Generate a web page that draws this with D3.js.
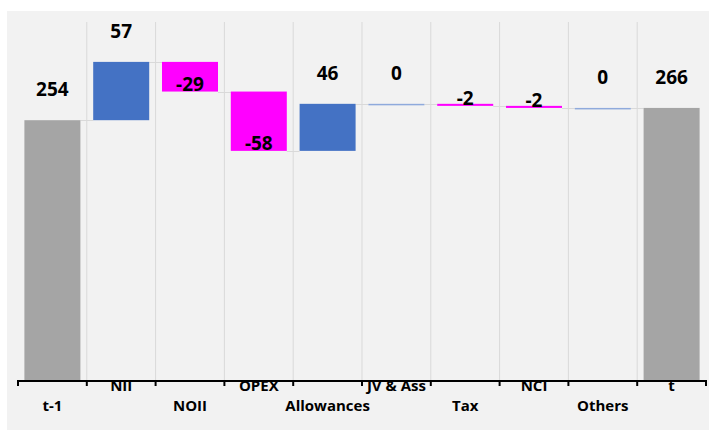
<!DOCTYPE html>
<html>
<head>
<meta charset="utf-8">
<script src="https://cdn.jsdelivr.net/npm/d3@7"></script>
<style>
  html, body { margin: 0; padding: 0; background: #ffffff; }
  svg { display: block; }
  text { font-family: "Open Sans", "Noto Sans", sans-serif; font-weight: 700; fill: #000; }
</style>
</head>
<body>
<svg id="chart" width="709" height="431"></svg>
<script>
// Waterfall steps: opening total, movements, closing total
const categories = ["t-1", "NII", "NOII", "OPEX", "Allowances", "JV & Ass", "Tax", "NCI", "Others", "t"];
const values = [254, 57, -29, -58, 46, 0, -2, -2, 0, 266];
const kinds = ["total", "delta", "delta", "delta", "delta", "delta", "delta", "delta", "delta", "total"];
const yMax = 350;

const colors = { total: "#a5a5a5", up: "#4472c4", down: "#ff00ff", zero: "#8faadc" };

const svg = d3.select("#chart");
const W = 709, H = 431;
const plot = { left: 18, right: 706, top: 22, bottom: 380 };

// panel background
svg.append("rect").attr("x", 7).attr("y", 11).attr("width", W - 7).attr("height", 419).attr("fill", "#f2f2f2");

const x = d3.scaleBand().domain(categories).range([plot.left, plot.right]).paddingInner(0.186).paddingOuter(0.093);
const y = d3.scaleLinear().domain([0, yMax]).range([plot.bottom, plot.top]);
const step = x.step();

// build running totals
let running = 0;
const bars = categories.map((c, i) => {
  const v = values[i];
  let start, end;
  if (kinds[i] === "total") { start = 0; end = v; running = v; }
  else { start = running; end = running + v; running = end; }
  return { c, v, kind: kinds[i], start, end };
});

// vertical separators between categories
const bounds = d3.range(categories.length + 1).map(i => plot.left + i * step);
svg.append("g").selectAll("line").data(bounds.slice(1, -1)).join("line")
  .attr("x1", d => d).attr("x2", d => d)
  .attr("y1", plot.top).attr("y2", plot.bottom)
  .attr("stroke", "#d9d9d9").attr("stroke-width", 1);

// connector lines between consecutive bars
svg.append("g").selectAll("line").data(bars.slice(0, -1)).join("line")
  .attr("x1", (d) => x(d.c) + x.bandwidth())
  .attr("x2", (d, i) => x(bars[i + 1].c))
  .attr("y1", d => Math.round(y(d.end)) + 0.5)
  .attr("y2", d => Math.round(y(d.end)) + 0.5)
  .attr("stroke", "#d9d9d9").attr("stroke-width", 1);

function fillOf(d) {
  if (d.kind === "total") return colors.total;
  if (d.v > 0) return colors.up;
  if (d.v < 0) return colors.down;
  return colors.zero;
}

// bars
svg.append("g").selectAll("rect").data(bars).join("rect")
  .attr("x", d => x(d.c))
  .attr("width", x.bandwidth())
  .attr("y", d => y(Math.max(d.start, d.end)))
  .attr("height", d => Math.max(1.5, Math.abs(y(d.start) - y(d.end))))
  .attr("fill", fillOf);

// value labels
svg.append("g").selectAll("text").data(bars).join("text")
  .attr("x", d => x(d.c) + x.bandwidth() / 2)
  .attr("y", d => d.v < 0 ? y(d.end) - 1 : y(Math.max(d.start, d.end)) - 24)
  .attr("text-anchor", "middle")
  .attr("font-size", 19)
  .text(d => d.v);

// x axis
const axis = svg.append("g");
axis.append("line")
  .attr("x1", plot.left).attr("x2", plot.right)
  .attr("y1", plot.bottom + 1).attr("y2", plot.bottom + 1)
  .attr("stroke", "#000").attr("stroke-width", 2);
axis.selectAll("line.tick").data(bounds).join("line").attr("class", "tick")
  .attr("x1", d => d).attr("x2", d => d)
  .attr("y1", plot.bottom).attr("y2", plot.bottom + 6)
  .attr("stroke", "#000").attr("stroke-width", 2);

// category labels, staggered on two rows
axis.selectAll("text").data(categories).join("text")
  .attr("x", d => x(d) + x.bandwidth() / 2)
  .attr("y", (d, i) => i % 2 === 1 ? 391 : 411)
  .attr("text-anchor", "middle")
  .attr("font-size", 15)
  .text(d => d);
</script>
</body>
</html>
